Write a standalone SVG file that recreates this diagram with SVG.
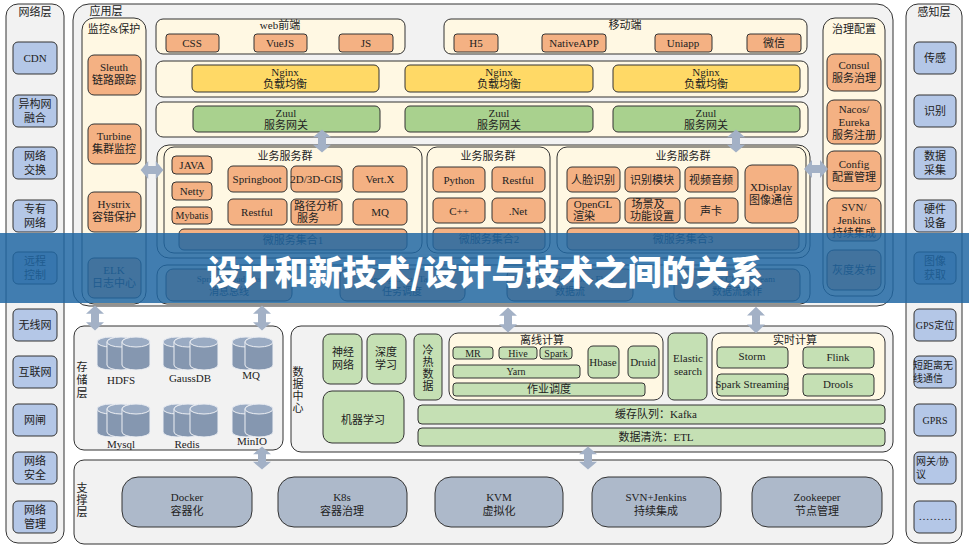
<svg xmlns="http://www.w3.org/2000/svg" xmlns:xlink="http://www.w3.org/1999/xlink" width="969" height="547" viewBox="0 0 969 547">
<style>
.col{fill:#f2f2f2;stroke:#333;stroke-width:1}
.cr{fill:#fff8e3;stroke:#333;stroke-width:1}
.bl{fill:#b4c7e7;stroke:#333;stroke-width:1}
.or{fill:#f4b183;stroke:#333;stroke-width:1}
.ye{fill:#ffd966;stroke:#333;stroke-width:1}
.gr{fill:#a9d18e;stroke:#333;stroke-width:1}
.lg{fill:#c5e0b4;stroke:#333;stroke-width:1}
.sp{fill:#adb9ca;stroke:#333;stroke-width:1}
.cy{fill:#8597b0;stroke:#eef0f4;stroke-width:1}
.cyt{fill:#9aabc3;stroke:#eef0f4;stroke-width:1}
text{font-family:"Liberation Serif","Noto Sans CJK SC",serif;font-size:11px;fill:#222;text-anchor:middle}
.s{font-size:10px}
.xs{font-size:9px}
.l{text-anchor:start}
.ban{font-family:"Noto Sans CJK SC","Noto Sans",sans-serif;font-size:34px;font-weight:900;fill:#fff}
</style>
<defs>
<path id="dav" d="M0,-12 L9,-4 L4,-4 L4,4 L9,4 L0,12 L-9,4 L-4,4 L-4,-4 L-9,-4 Z" fill="#a3b1c6"/>
<g id="cyl"><path class="cy" d="M0,5 A14,5 0 0 1 28,5 V28 A14,5 0 0 1 0,28 Z"/><ellipse class="cyt" cx="14" cy="5" rx="14" ry="5"/></g>
</defs>
<rect width="969" height="547" fill="#ffffff"/>

<!-- network layer -->
<g id="net">
<rect class="col" x="6" y="4" width="58" height="539" rx="12"/>
<text x="35" y="16">网络层</text>
<rect class="bl" x="13" y="42" width="44" height="32" rx="5"/><text x="35" y="62">CDN</text>
<rect class="bl" x="13" y="95" width="44" height="32" rx="5"/><text x="35" y="108">异构网<tspan x="35" dy="14">融合</tspan></text>
<rect class="bl" x="13" y="147" width="44" height="32" rx="5"/><text x="35" y="160">网络<tspan x="35" dy="14">交换</tspan></text>
<rect class="bl" x="13" y="200" width="44" height="32" rx="5"/><text x="35" y="213">专有<tspan x="35" dy="14">网络</tspan></text>
<rect class="bl" x="13" y="252" width="44" height="32" rx="5"/><text x="35" y="265">远程<tspan x="35" dy="14">控制</tspan></text>
<rect class="bl" x="13" y="309" width="44" height="32" rx="5"/><text x="35" y="329">无线网</text>
<rect class="bl" x="13" y="356" width="44" height="32" rx="5"/><text x="35" y="376">互联网</text>
<rect class="bl" x="13" y="404" width="44" height="32" rx="5"/><text x="35" y="424">网闸</text>
<rect class="bl" x="13" y="452" width="44" height="32" rx="5"/><text x="35" y="465">网络<tspan x="35" dy="14">安全</tspan></text>
<rect class="bl" x="13" y="501" width="44" height="32" rx="5"/><text x="35" y="514">网络<tspan x="35" dy="14">管理</tspan></text>
</g>

<!-- perception layer -->
<g id="sense">
<rect class="col" x="906" y="4" width="56" height="539" rx="12"/>
<text x="934" y="16">感知层</text>
<rect class="bl" x="914" y="42" width="42" height="32" rx="5"/><text x="935" y="62">传感</text>
<rect class="bl" x="914" y="95" width="42" height="32" rx="5"/><text x="935" y="115">识别</text>
<rect class="bl" x="914" y="147" width="42" height="32" rx="5"/><text x="935" y="160">数据<tspan x="935" dy="14">采集</tspan></text>
<rect class="bl" x="914" y="200" width="42" height="32" rx="5"/><text x="935" y="213">硬件<tspan x="935" dy="14">设备</tspan></text>
<rect class="bl" x="914" y="252" width="42" height="32" rx="5"/><text x="935" y="265">图像<tspan x="935" dy="14">获取</tspan></text>
<rect class="bl" x="914" y="309" width="42" height="32" rx="5"/><text x="935" y="329" class="s">GPS定位</text>
<rect class="bl" x="914" y="356" width="42" height="32" rx="5"/><text x="913" y="369" class="s l">短距离无<tspan x="913" dy="13">线通信</tspan></text>
<rect class="bl" x="914" y="404" width="42" height="32" rx="5"/><text x="935" y="424" class="s">GPRS</text>
<rect class="bl" x="914" y="452" width="42" height="32" rx="5"/><text x="916" y="465" class="s l">网关/协<tspan x="916" dy="13">议</tspan></text>
<rect class="bl" x="914" y="501" width="42" height="32" rx="5"/><text x="935" y="520">………</text>
</g>

<!-- application layer -->
<g id="app">
<rect class="col" x="73" y="4" width="820" height="302" rx="16"/>
<text x="106" y="15">应用层</text>
</g>
<g id="monitor">
<rect class="cr" x="82" y="18" width="64" height="286" rx="12"/>
<text x="114" y="33">监控&amp;保护</text>
<rect class="or" x="88" y="55" width="53" height="40" rx="6"/><text x="114" y="71">Sleuth<tspan x="114" dy="13">链路跟踪</tspan></text>
<rect class="or" x="88" y="124" width="53" height="40" rx="6"/><text x="114" y="140">Turbine<tspan x="114" dy="13">集群监控</tspan></text>
<rect class="or" x="88" y="192" width="53" height="40" rx="6"/><text x="114" y="208">Hystrix<tspan x="114" dy="13">容错保护</tspan></text>
<rect class="or" x="88" y="258" width="53" height="40" rx="6"/><text x="114" y="274">ELK<tspan x="114" dy="13">日志中心</tspan></text>
</g>
<g id="web">
<rect class="cr" x="156" y="19" width="249" height="35" rx="7"/>
<text x="280" y="29">web前端</text>
<rect class="or" x="166" y="34" width="53" height="18" rx="3"/><text x="192" y="47">CSS</text>
<rect class="or" x="254" y="34" width="53" height="18" rx="3"/><text x="280" y="47">VueJS</text>
<rect class="or" x="339" y="34" width="54" height="18" rx="3"/><text x="366" y="47">JS</text>
</g>
<g id="mobile">
<rect class="cr" x="444" y="19" width="363" height="35" rx="7"/>
<text x="625" y="29">移动端</text>
<rect class="or" x="454" y="34" width="44" height="18" rx="3"/><text x="476" y="47">H5</text>
<rect class="or" x="542" y="34" width="64" height="18" rx="3"/><text x="574" y="47">NativeAPP</text>
<rect class="or" x="655" y="34" width="57" height="18" rx="3"/><text x="683" y="47">Uniapp</text>
<rect class="or" x="747" y="34" width="54" height="18" rx="3"/><text x="774" y="47">微信</text>
</g>
<g id="nginx">
<rect class="cr" x="156" y="61" width="652" height="36" rx="7"/>
<rect class="ye" x="192" y="65" width="187" height="27" rx="5"/><text x="285" y="76">Nginx<tspan x="285" dy="12">负载均衡</tspan></text>
<rect class="ye" x="405" y="65" width="188" height="27" rx="5"/><text x="499" y="76">Nginx<tspan x="499" dy="12">负载均衡</tspan></text>
<rect class="ye" x="613" y="65" width="187" height="27" rx="5"/><text x="706" y="76">Nginx<tspan x="706" dy="12">负载均衡</tspan></text>
</g>
<g id="zuul">
<rect class="cr" x="156" y="102" width="652" height="35" rx="7"/>
<rect class="gr" x="193" y="106" width="187" height="26" rx="5"/><text x="286" y="117">Zuul<tspan x="286" dy="12">服务网关</tspan></text>
<rect class="gr" x="405" y="106" width="188" height="26" rx="5"/><text x="499" y="117">Zuul<tspan x="499" dy="12">服务网关</tspan></text>
<rect class="gr" x="613" y="106" width="187" height="26" rx="5"/><text x="706" y="117">Zuul<tspan x="706" dy="12">服务网关</tspan></text>
</g>
<g id="services">
<rect class="cr" x="157" y="145" width="653" height="113" rx="12"/>
<rect class="cr" x="164" y="147" width="258" height="106" rx="10"/>
<text x="285" y="160">业务服务群</text>
<rect class="or" x="172" y="156" width="40" height="18" rx="4"/><text x="192" y="169">JAVA</text>
<rect class="or" x="172" y="182" width="40" height="18" rx="4"/><text x="192" y="195">Netty</text>
<rect class="or" x="172" y="207" width="40" height="17" rx="4"/><text x="192" y="219" class="s">Mybatis</text>
<rect class="or" x="228" y="166" width="59" height="26" rx="5"/><text x="257" y="183">Springboot</text>
<rect class="or" x="291" y="166" width="51" height="26" rx="5"/><text x="316" y="183">2D/3D-GIS</text>
<rect class="or" x="353" y="166" width="54" height="26" rx="5"/><text x="380" y="183">Vert.X</text>
<rect class="or" x="228" y="199" width="59" height="26" rx="5"/><text x="257" y="216">Restful</text>
<rect class="or" x="291" y="199" width="51" height="26" rx="5"/><text x="316" y="210">路径分析<tspan x="308" dy="12">服务</tspan></text>
<rect class="or" x="353" y="199" width="54" height="26" rx="5"/><text x="380" y="216">MQ</text>
<rect class="or" x="179" y="229" width="228" height="21" rx="5"/><text x="293" y="244">微服务集合1</text>

<rect class="cr" x="427" y="147" width="123" height="106" rx="10"/>
<text x="488" y="160">业务服务群</text>
<rect class="or" x="433" y="167" width="52" height="25" rx="5"/><text x="459" y="184">Python</text>
<rect class="or" x="492" y="167" width="53" height="25" rx="5"/><text x="518" y="184">Restful</text>
<rect class="or" x="433" y="198" width="52" height="25" rx="5"/><text x="459" y="215">C++</text>
<rect class="or" x="492" y="198" width="53" height="25" rx="5"/><text x="518" y="215">.Net</text>
<rect class="or" x="433" y="228" width="112" height="22" rx="5"/><text x="489" y="243">微服务集合2</text>

<rect class="cr" x="557" y="147" width="249" height="106" rx="10"/>
<text x="683" y="160">业务服务群</text>
<rect class="or" x="567" y="167" width="53" height="25" rx="5"/><text x="593" y="184">人脸识别</text>
<rect class="or" x="625" y="167" width="55" height="25" rx="5"/><text x="652" y="184">识别模块</text>
<rect class="or" x="685" y="167" width="53" height="25" rx="5"/><text x="711" y="184">视频音频</text>
<rect class="or" x="745" y="165" width="53" height="58" rx="7"/><text x="771" y="191">XDisplay<tspan x="771" dy="13">图像通信</tspan></text>
<rect class="or" x="567" y="198" width="53" height="25" rx="5"/><text x="593" y="208">OpenGL<tspan x="584" dy="12">渲染</tspan></text>
<rect class="or" x="625" y="198" width="55" height="25" rx="5"/><text x="648" y="208">场景及<tspan x="652" dy="12">功能设置</tspan></text>
<rect class="or" x="685" y="198" width="53" height="25" rx="5"/><text x="711" y="215">声卡</text>
<rect class="or" x="567" y="228" width="232" height="22" rx="5"/><text x="683" y="243">微服务集合3</text>
</g>
<g id="cloud">
<rect class="cr" x="157" y="265" width="653" height="39" rx="10"/>
<rect class="or" x="166" y="269" width="126" height="32" rx="7"/><text x="229" y="282" class="xs">Spring Cloud Bus<tspan x="229" dy="13" class="s">消息总线</tspan></text>
<rect class="or" x="340" y="269" width="125" height="32" rx="7"/><text x="402" y="282" class="xs">Spring Cloud Task<tspan x="402" dy="13" class="s">任务调度</tspan></text>
<rect class="or" x="507" y="269" width="126" height="32" rx="7"/><text x="570" y="282" class="xs">Spring Cloud Data Flow<tspan x="570" dy="13" class="s">数据流</tspan></text>
<rect class="or" x="674" y="269" width="126" height="32" rx="7"/><text x="737" y="282" class="xs">Spring Cloud Stream<tspan x="737" dy="13" class="s">数据流操作</tspan></text>
</g>
<g id="govern">
<rect class="cr" x="823" y="18" width="62" height="278" rx="12"/>
<text x="854" y="33">治理配置</text>
<rect class="or" x="827" y="54" width="54" height="37" rx="7"/><text x="854" y="69">Consul<tspan x="854" dy="13">服务治理</tspan></text>
<rect class="or" x="827" y="100" width="54" height="44" rx="7"/><text x="854" y="113">Nacos/<tspan x="854" dy="13">Eureka</tspan><tspan x="854" dy="13">服务注册</tspan></text>
<rect class="or" x="827" y="151" width="54" height="40" rx="7"/><text x="854" y="168">Config<tspan x="854" dy="13">配置管理</tspan></text>
<rect class="or" x="827" y="198" width="54" height="43" rx="7"/><text x="854" y="211">SVN/<tspan x="854" dy="13">Jenkins</tspan><tspan x="854" dy="13">持续集成</tspan></text>
<rect class="or" x="827" y="250" width="54" height="40" rx="7"/><text x="854" y="274">灰度发布</text>
</g>

<!-- storage layer -->
<g id="storage">
<rect class="col" x="74" y="326" width="209" height="124" rx="10"/>
<text x="82" y="371">存<tspan x="82" dy="13">储</tspan><tspan x="82" dy="13">层</tspan></text>
<use xlink:href="#cyl" x="97" y="337"/><use xlink:href="#cyl" x="107" y="337"/><use xlink:href="#cyl" x="122" y="337"/>
<use xlink:href="#cyl" x="163" y="337"/><use xlink:href="#cyl" x="174" y="337"/><use xlink:href="#cyl" x="190" y="337"/>
<use xlink:href="#cyl" x="232" y="337"/><use xlink:href="#cyl" x="245" y="337"/>
<use xlink:href="#cyl" x="97" y="404"/><use xlink:href="#cyl" x="107" y="404"/><use xlink:href="#cyl" x="122" y="404"/>
<use xlink:href="#cyl" x="163" y="404"/><use xlink:href="#cyl" x="174" y="404"/><use xlink:href="#cyl" x="190" y="404"/>
<use xlink:href="#cyl" x="232" y="404"/><use xlink:href="#cyl" x="245" y="404"/>
<text x="121" y="384">HDFS</text><text x="190" y="382">GaussDB</text><text x="251" y="379">MQ</text>
<text x="121" y="448">Mysql</text><text x="187" y="448">Redis</text><text x="252" y="445">MinIO</text>
</g>

<!-- data center -->
<g id="datacenter">
<rect class="col" x="291" y="326" width="602" height="126" rx="10"/>
<text x="298" y="376">数<tspan x="298" dy="12">据</tspan><tspan x="298" dy="12">中</tspan><tspan x="298" dy="12">心</tspan></text>
<rect class="lg" x="323" y="334" width="39" height="50" rx="7"/><text x="343" y="356">神经<tspan x="343" dy="13">网络</tspan></text>
<rect class="lg" x="367" y="334" width="39" height="50" rx="7"/><text x="386" y="356">深度<tspan x="386" dy="13">学习</tspan></text>
<rect class="lg" x="414" y="334" width="28" height="66" rx="6"/><text x="428" y="354">冷<tspan x="428" dy="12">热</tspan><tspan x="428" dy="12">数</tspan><tspan x="428" dy="12">据</tspan></text>
<rect class="lg" x="323" y="391" width="81" height="52" rx="9"/><text x="363" y="424">机器学习</text>
<rect class="cr" x="449" y="333" width="214" height="67" rx="9"/>
<text x="542" y="344">离线计算</text>
<rect class="lg" x="453" y="347" width="40" height="12" rx="3"/><text x="473" y="357" class="s">MR</text>
<rect class="lg" x="499" y="347" width="38" height="12" rx="3"/><text x="518" y="357" class="s">Hive</text>
<rect class="lg" x="540" y="347" width="32" height="12" rx="3"/><text x="556" y="357" class="s">Spark</text>
<rect class="lg" x="453" y="365" width="127" height="13" rx="3"/><text x="516" y="375" class="s">Yarn</text>
<rect class="lg" x="453" y="383" width="192" height="13" rx="3"/><text x="549" y="393">作业调度</text>
<rect class="lg" x="588" y="346" width="31" height="32" rx="5"/><text x="603" y="366">Hbase</text>
<rect class="lg" x="628" y="346" width="31" height="32" rx="5"/><text x="643" y="366">Druid</text>
<rect class="lg" x="668" y="333" width="39" height="67" rx="6"/><text x="688" y="362">Elastic<tspan x="688" dy="13">search</tspan></text>
<rect class="cr" x="712" y="333" width="173" height="67" rx="9"/>
<text x="795" y="344">实时计算</text>
<rect class="lg" x="717" y="347" width="71" height="21" rx="4"/><text x="752" y="360">Storm</text>
<rect class="lg" x="803" y="347" width="71" height="21" rx="4"/><text x="838" y="361">Flink</text>
<rect class="lg" x="717" y="374" width="71" height="22" rx="4"/><text x="752" y="388">Spark Streaming</text>
<rect class="lg" x="803" y="374" width="71" height="22" rx="4"/><text x="838" y="388">Drools</text>
<rect class="lg" x="418" y="405" width="467" height="19" rx="4"/><text x="656" y="418">缓存队列：Kafka</text>
<rect class="lg" x="418" y="428" width="467" height="18" rx="4"/><text x="656" y="441">数据清洗：ETL</text>
</g>

<!-- support layer -->
<g id="support">
<rect class="col" x="74" y="460" width="819" height="84" rx="10"/>
<text x="82" y="492">支<tspan x="82" dy="12">撑</tspan><tspan x="82" dy="12">层</tspan></text>
<rect class="sp" x="122" y="477" width="130" height="50" rx="16"/><text x="187" y="501">Docker<tspan x="187" dy="14">容器化</tspan></text>
<rect class="sp" x="278" y="477" width="129" height="50" rx="16"/><text x="342" y="501">K8s<tspan x="342" dy="14">容器治理</tspan></text>
<rect class="sp" x="435" y="477" width="128" height="50" rx="16"/><text x="499" y="501">KVM<tspan x="499" dy="14">虚拟化</tspan></text>
<rect class="sp" x="592" y="477" width="129" height="50" rx="16"/><text x="656" y="501">SVN+Jenkins<tspan x="656" dy="14">持续集成</tspan></text>
<rect class="sp" x="752" y="477" width="130" height="50" rx="16"/><text x="817" y="501">Zookeeper<tspan x="817" dy="14">节点管理</tspan></text>
</g>

<!-- connectors -->
<g id="connectors">
<use xlink:href="#dav" transform="translate(152,170) rotate(90) scale(1,0.95)"/>
<use xlink:href="#dav" transform="translate(816,169) rotate(90) scale(1,1)"/>
<use xlink:href="#dav" transform="translate(322,141) scale(1,0.95)"/>
<use xlink:href="#dav" transform="translate(736,141) scale(1,0.95)"/>
<use xlink:href="#dav" transform="translate(95,318) scale(1,1.05)"/>
<use xlink:href="#dav" transform="translate(262,318) scale(1,1.05)"/>
<use xlink:href="#dav" transform="translate(508,320) scale(1,1.05)"/>
<use xlink:href="#dav" transform="translate(756,320) scale(1,1.1)"/>
<use xlink:href="#dav" transform="translate(262,458) scale(1,0.95)"/>
<use xlink:href="#dav" transform="translate(588,458) scale(1,0.95)"/>
</g>

<!-- banner -->
<g id="banner">
<rect x="0" y="233" width="969" height="70" fill="#1f66a3" fill-opacity="0.84"/>
<text class="ban" x="485" y="285">设计和新技术/设计与技术之间的关系</text>
</g>
</svg>
